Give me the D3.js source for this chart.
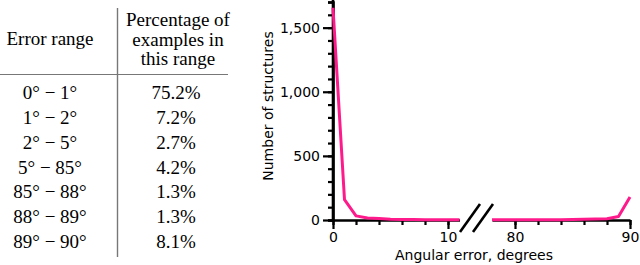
<!DOCTYPE html>
<html>
<head>
<meta charset="utf-8">
<script src="https://cdn.jsdelivr.net/npm/d3@7"></script>
<style>
  body { margin: 0; background: #fff; }
  svg { display: block; }
</style>
</head>
<body>
<svg width="640" height="265"></svg>
<script>
// Table data
let ranges = ["0° − 1°", "1° − 2°", "2° − 5°", "5° − 85°", "85° − 88°", "88° − 89°", "89° − 90°"];
let percents = ["75.2%", "7.2%", "2.7%", "4.2%", "1.3%", "1.3%", "8.1%"];
let headerLeft = ["Error range"];
let headerRight = ["Percentage of", "examples in", "this range"];

// Chart data (angular error in degrees, number of structures)
let leftX = [0, 1, 2, 3, 4, 5, 6, 7, 8, 9, 10, 11];
let leftY = [1655, 158, 32, 16, 11, 6, 4, 3, 2, 2, 1, 1];
let rightX = [78, 79, 80, 81, 82, 83, 84, 85, 86, 87, 88, 89, 90];
let rightY = [1, 1, 1, 1, 1, 1, 1, 3, 5, 7, 10, 28, 180];
let yTicks = [0, 500, 1000, 1500];
let xTicksLeft = [0, 10];
let xTicksRight = [80, 90];

let svg = d3.select("svg");
let pink = "#ff1a8c";

// ---- table ----
let tbl = svg.append("g")
  .style("font-family", "'Liberation Serif', 'Times New Roman', serif")
  .style("font-size", "19px");

tbl.append("line")
  .attr("x1", 0).attr("x2", 228).attr("y1", 74.5).attr("y2", 74.5)
  .attr("stroke", "#777").attr("stroke-width", 1.2);
tbl.append("line")
  .attr("x1", 117.5).attr("x2", 117.5).attr("y1", 8).attr("y2", 257)
  .attr("stroke", "#777").attr("stroke-width", 1.4);

tbl.selectAll("text.hl")
  .data(headerLeft)
  .enter().append("text")
  .attr("x", 50).attr("y", 45)
  .attr("text-anchor", "middle")
  .text(d => d);

tbl.selectAll("text.hr")
  .data(headerRight)
  .enter().append("text")
  .attr("x", 178).attr("y", (d, i) => 26 + i * 19.5)
  .attr("text-anchor", "middle")
  .text(d => d);

let rowY = d3.scaleLinear().domain([0, 6]).range([99, 248]);

tbl.selectAll("text.range")
  .data(ranges)
  .enter().append("text")
  .attr("x", 50).attr("y", (d, i) => rowY(i))
  .attr("text-anchor", "middle")
  .text(d => d);

tbl.selectAll("text.pct")
  .data(percents)
  .enter().append("text")
  .attr("x", 176).attr("y", (d, i) => rowY(i))
  .attr("text-anchor", "middle")
  .text(d => d);

// ---- chart ----
let x0 = 333, y0 = 220, unit = 11.5;
let y = d3.scaleLinear().domain([0, 1700]).range([y0, 2]);
let xL = d3.scaleLinear().domain([0, 11]).range([x0, x0 + 11 * unit]);
let xR = d3.scaleLinear().domain([78, 90]).range([630 - 12 * unit, 630]);

let chart = svg.append("g")
  .style("font-family", "'DejaVu Sans', Verdana, sans-serif")
  .style("font-size", "14px");

function styleAxis(g) {
  g.select(".domain").attr("stroke", "#000").attr("stroke-width", 2.6);
  g.selectAll(".tick line").attr("stroke", "#000").attr("stroke-width", 2.2);
  g.selectAll(".tick text").attr("fill", "#000")
    .style("font-family", "'DejaVu Sans', Verdana, sans-serif")
    .style("font-size", "14px");
}
function noLabels(g) {
  g.selectAll(".tick text").remove();
}

// y axis: minor then major
chart.append("g")
  .attr("transform", `translate(${x0},0)`)
  .call(d3.axisLeft(y).tickValues(d3.range(0, 1701, 100)).tickSize(5))
  .call(styleAxis)
  .call(noLabels);
chart.append("g")
  .attr("transform", `translate(${x0},0)`)
  .call(d3.axisLeft(y).tickValues(yTicks).tickSize(10).tickPadding(3).tickFormat(d3.format(",")))
  .call(styleAxis)
  .call(g => g.select(".domain").remove());
chart.append("line")
  .attr("x1", x0).attr("x2", x0).attr("y1", 0).attr("y2", y0)
  .attr("stroke", "#000").attr("stroke-width", 2.6);

// x axis, left segment
chart.append("g")
  .attr("transform", `translate(0,${y0})`)
  .call(d3.axisBottom(xL).tickValues(d3.range(0, 11, 2)).tickSize(5).tickSizeOuter(0))
  .call(styleAxis)
  .call(noLabels);
chart.append("g")
  .attr("transform", `translate(0,${y0})`)
  .call(d3.axisBottom(xL).tickValues(xTicksLeft).tickSize(9).tickPadding(3).tickFormat(d3.format("d")))
  .call(styleAxis)
  .call(g => g.select(".domain").remove());

// x axis, right segment
chart.append("g")
  .attr("transform", `translate(0,${y0})`)
  .call(d3.axisBottom(xR).tickValues(d3.range(80, 91, 2)).tickSize(5).tickSizeOuter(0))
  .call(styleAxis)
  .call(noLabels);
chart.append("g")
  .attr("transform", `translate(0,${y0})`)
  .call(d3.axisBottom(xR).tickValues(xTicksRight).tickSize(9).tickPadding(3).tickFormat(d3.format("d")))
  .call(styleAxis)
  .call(g => g.select(".domain").remove());

// break marks
[0, 13].forEach(dx => {
  chart.append("line")
    .attr("x1", 460 + dx).attr("y1", 232)
    .attr("x2", 480 + dx).attr("y2", 204)
    .attr("stroke", "#000").attr("stroke-width", 2.6);
});

// lines
let lineL = d3.line().x(d => xL(d[0])).y(d => y(d[1]));
let lineR = d3.line().x(d => xR(d[0])).y(d => y(d[1]));

chart.append("path")
  .datum(d3.zip(leftX, leftY))
  .attr("d", lineL)
  .attr("fill", "none").attr("stroke", pink)
  .attr("stroke-width", 3).attr("stroke-linejoin", "round");
chart.append("path")
  .datum(d3.zip(rightX, rightY))
  .attr("d", lineR)
  .attr("fill", "none").attr("stroke", pink)
  .attr("stroke-width", 3).attr("stroke-linejoin", "round");

// axis titles
chart.append("text")
  .attr("x", 474).attr("y", 260)
  .attr("text-anchor", "middle")
  .text("Angular error, degrees");
chart.append("text")
  .attr("transform", "translate(273,106) rotate(-90)")
  .attr("text-anchor", "middle")
  .text("Number of structures");
</script>
</body>
</html>
